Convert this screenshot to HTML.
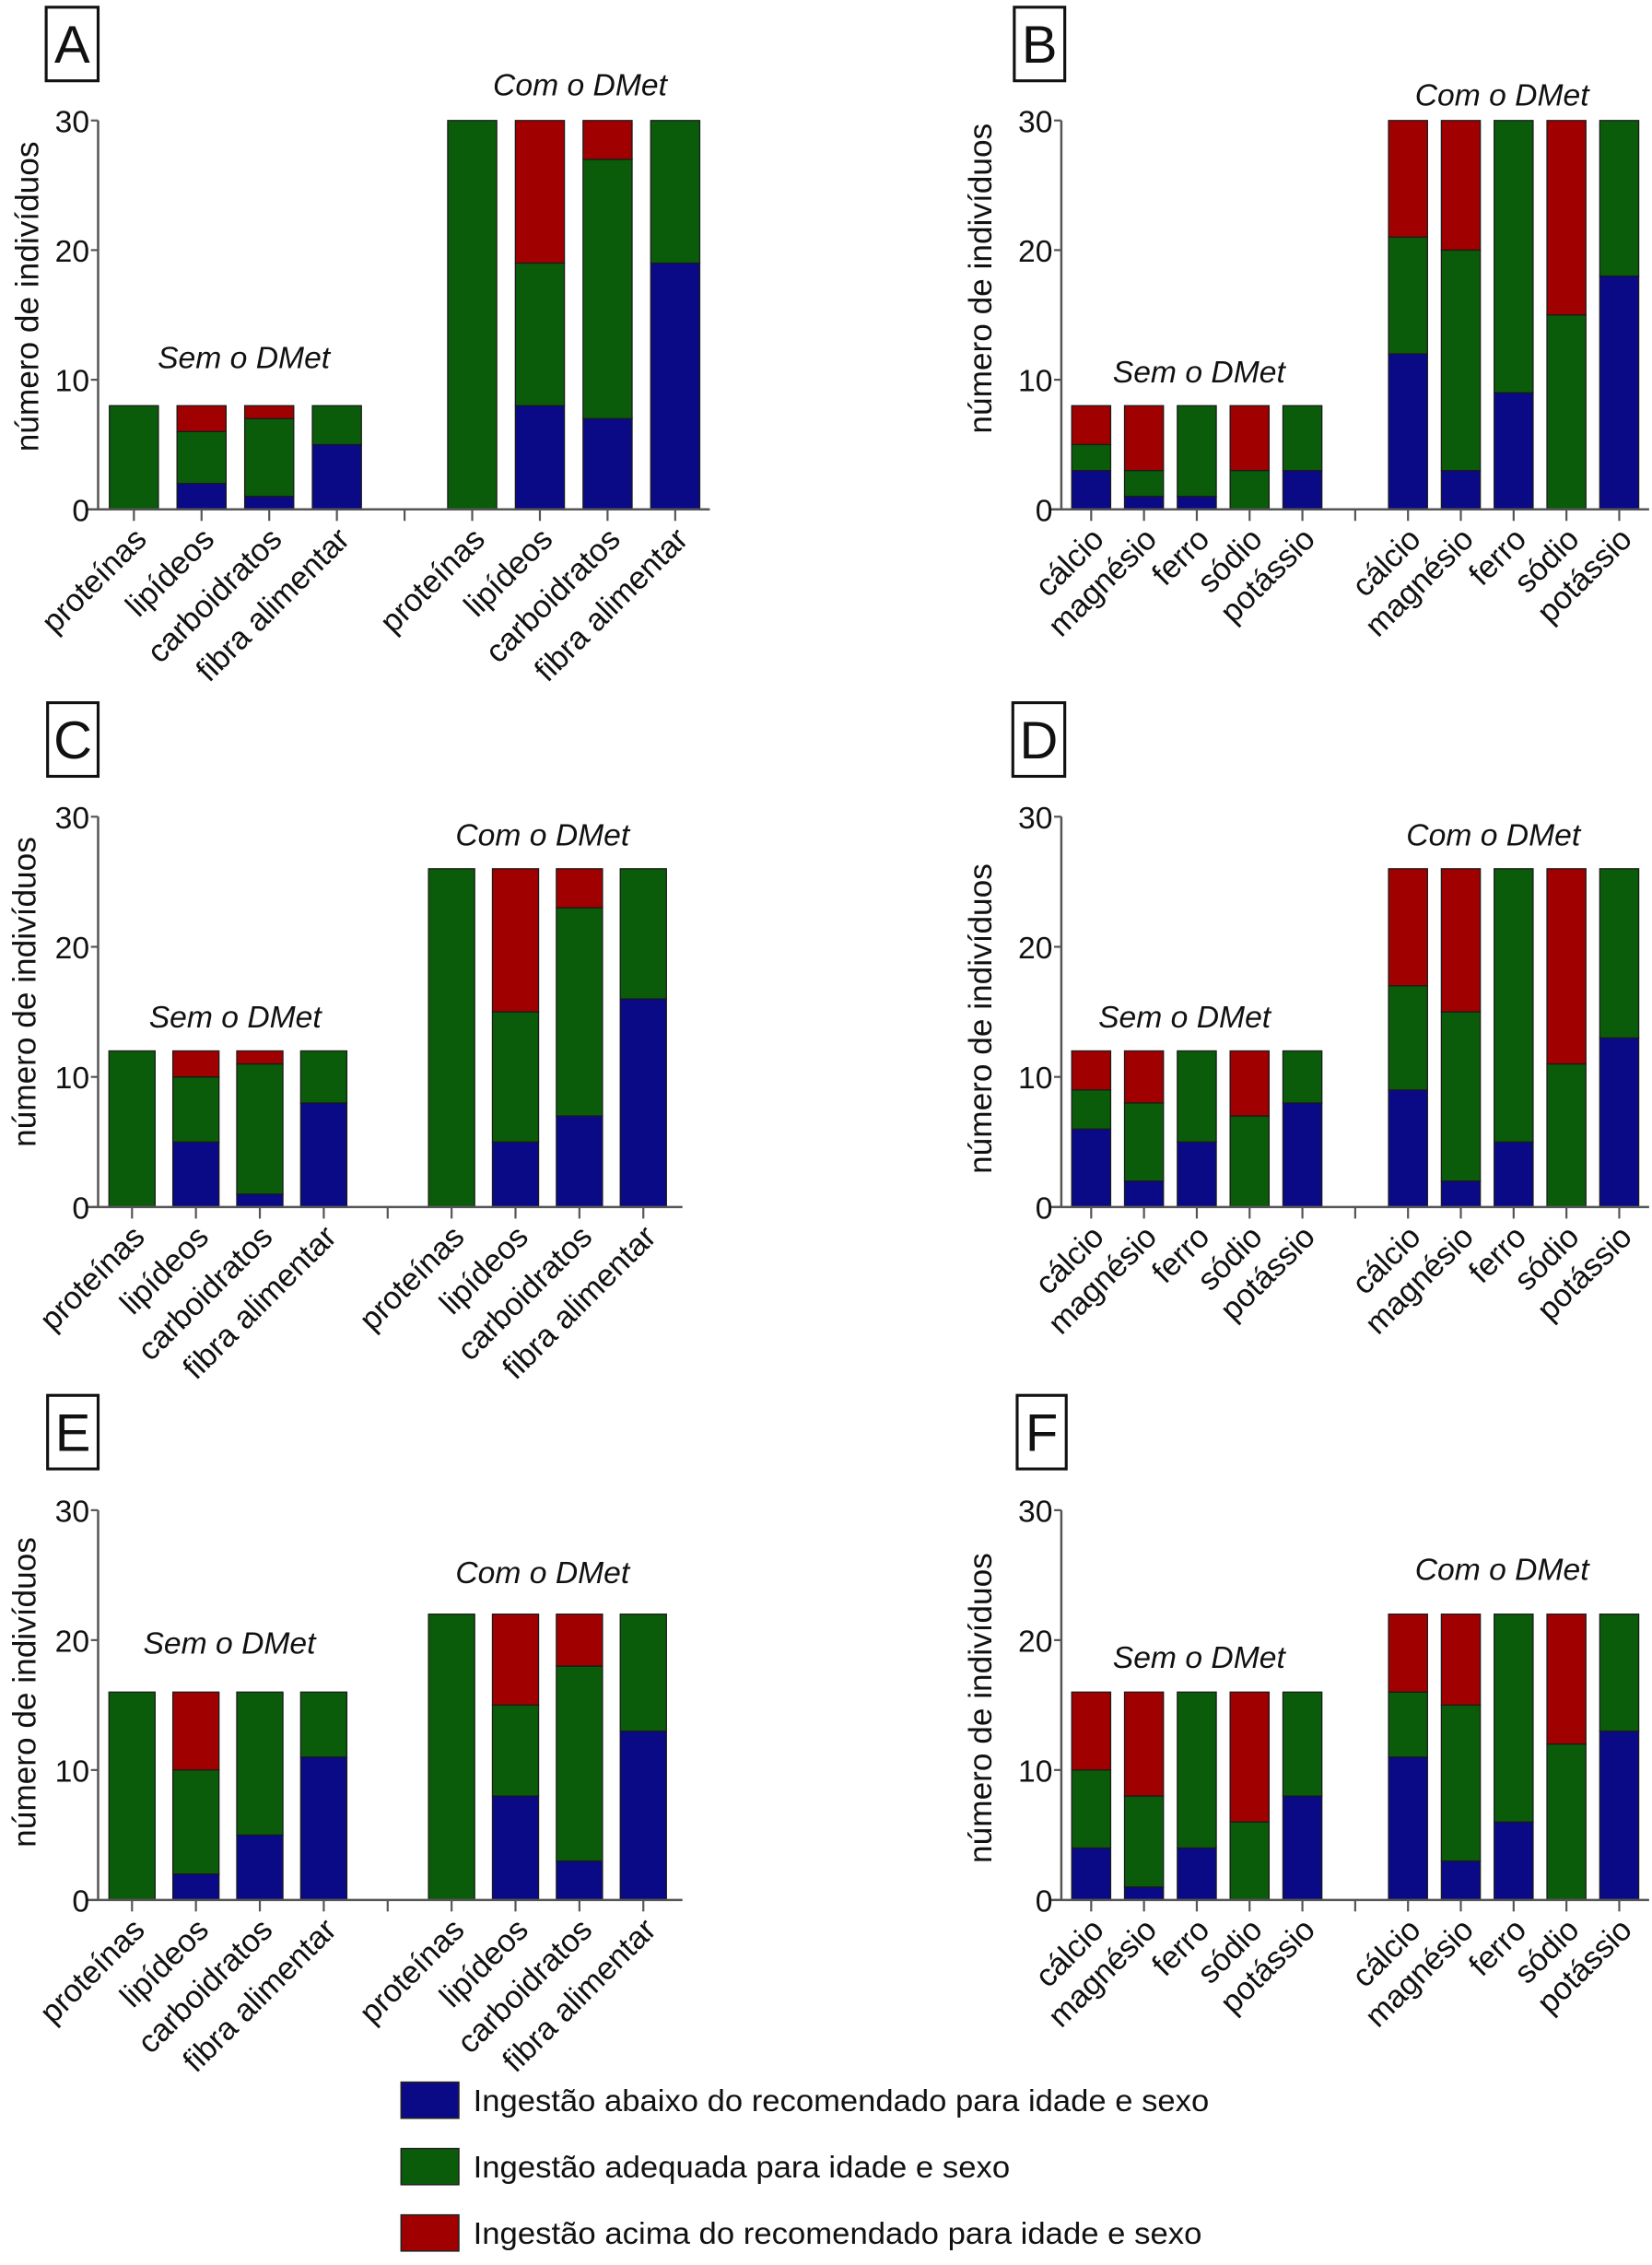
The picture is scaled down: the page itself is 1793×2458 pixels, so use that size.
<!DOCTYPE html>
<html><head><meta charset="utf-8"><style>
html,body{margin:0;padding:0;background:#fff;}
svg{display:block;}
text{font-family:"Liberation Sans",sans-serif;fill:#111;}
</style></head><body>
<svg id="fig" xmlns="http://www.w3.org/2000/svg" width="1793" height="2458" viewBox="0 0 1145 1569.7" preserveAspectRatio="none"></svg>
<script>
const macroCats = ["proteínas","lipídeos","carboidratos","fibra alimentar"];
const mineralCats = ["cálcio","magnésio","ferro","sódio","potássio"];
const yTickVals = [0,10,20,30];
const yTickLabels = ["0","10","20","30"];
const seriesNames = ["Ingestão abaixo do recomendado para idade e sexo","Ingestão adequada para idade e sexo","Ingestão acima do recomendado para idade e sexo"];

const aSemBlue=[0,2,1,5], aSemGreen=[8,4,6,3], aSemRed=[0,2,1,0];
const aComBlue=[0,8,7,19], aComGreen=[30,11,20,11], aComRed=[0,11,3,0];
const bSemBlue=[3,1,1,0,3], bSemGreen=[2,2,7,3,5], bSemRed=[3,5,0,5,0];
const bComBlue=[12,3,9,0,18], bComGreen=[9,17,21,15,12], bComRed=[9,10,0,15,0];
const cSemBlue=[0,5,1,8], cSemGreen=[12,5,10,4], cSemRed=[0,2,1,0];
const cComBlue=[0,5,7,16], cComGreen=[26,10,16,10], cComRed=[0,11,3,0];
const dSemBlue=[6,2,5,0,8], dSemGreen=[3,6,7,7,4], dSemRed=[3,4,0,5,0];
const dComBlue=[9,2,5,0,13], dComGreen=[8,13,21,11,13], dComRed=[9,11,0,15,0];
const eSemBlue=[0,2,5,11], eSemGreen=[16,8,11,5], eSemRed=[0,6,0,0];
const eComBlue=[0,8,3,13], eComGreen=[22,7,15,9], eComRed=[0,7,4,0];
const fSemBlue=[4,1,4,0,8], fSemGreen=[6,7,12,6,8], fSemRed=[6,8,0,10,0];
const fComBlue=[11,3,6,0,13], fComGreen=[5,12,16,12,9], fComRed=[6,7,0,10,0];

const COLORS=["#0a0a86","#0a5c0a","#a00000"];
const NS="http://www.w3.org/2000/svg";
const svg=document.getElementById('fig');
function mk(tag,attrs,parent,txt){const e=document.createElementNS(NS,tag);for(const k in attrs)e.setAttribute(k,attrs[k]);if(txt!==undefined)e.textContent=txt;(parent||svg).appendChild(e);return e;}

const panels=[
 {id:"a",letter:"A",cats:macroCats,sem:[aSemBlue,aSemGreen,aSemRed],com:[aComBlue,aComGreen,aComRed],ax:68,c0:92.8,sp:46.9,bw:34,end:492,y30:83.5,y0:353,box:[32,5,36,51],yt:[18.5,205.6],semT:[169,255],comT:[402,66]},
 {id:"b",letter:"B",cats:mineralCats,sem:[bSemBlue,bSemGreen,bSemRed],com:[bComBlue,bComGreen,bComRed],ax:735.6,c0:756.3,sp:36.6,bw:27,end:1143,y30:83.5,y0:353,box:[703,5,35,51],yt:[679,193],semT:[831,265],comT:[1041,73]},
 {id:"c",letter:"C",cats:macroCats,sem:[cSemBlue,cSemGreen,cSemRed],com:[cComBlue,cComGreen,cComRed],ax:68,c0:91.5,sp:44.3,bw:32,end:473,y30:566,y0:836.5,box:[33,487,35,51],yt:[16.6,687.5],semT:[163,712],comT:[376,586]},
 {id:"d",letter:"D",cats:mineralCats,sem:[dSemBlue,dSemGreen,dSemRed],com:[dComBlue,dComGreen,dComRed],ax:735.6,c0:756.3,sp:36.6,bw:27,end:1143,y30:566,y0:836.5,box:[702,487,36,51],yt:[679,706],semT:[821,712],comT:[1035,586]},
 {id:"e",letter:"E",cats:macroCats,sem:[eSemBlue,eSemGreen,eSemRed],com:[eComBlue,eComGreen,eComRed],ax:68,c0:91.5,sp:44.3,bw:32,end:473,y30:1046.6,y0:1316.7,box:[33,967,35,51],yt:[16.6,1172.8],semT:[159,1146],comT:[376,1097]},
 {id:"f",letter:"F",cats:mineralCats,sem:[fSemBlue,fSemGreen,fSemRed],com:[fComBlue,fComGreen,fComRed],ax:735.6,c0:756.3,sp:36.6,bw:27,end:1143,y30:1046.6,y0:1316.7,box:[705,967,34,51],yt:[679,1183.7],semT:[831,1156],comT:[1041,1095]}
];

panels.forEach(p=>{
  const g=mk('g',{});
  
  
  const yS=v=>p.y0-(p.y0-p.y30)*v/30;
  const n=p.cats.length;
  const xS=slot=>p.c0+slot*p.sp;
  const bx=mk('rect',{x:p.box[0],y:p.box[1],width:p.box[2],height:p.box[3],fill:'#fff',stroke:'#111','stroke-width':2},g);
  
  
  const bl=mk('text',{x:p.box[0]+p.box[2]/2,y:p.box[1]+p.box[3]/2+13,'text-anchor':'middle','font-size':37},g,p.letter);
  
  
  const groups=[{vals:p.sem,off:0,name:'sem'},{vals:p.com,off:n+1,name:'com'}];
  groups.forEach(gr=>{
    for(let i=0;i<n;i++){
      let acc=0;
      for(let s=0;s<3;s++){
        const v=gr.vals[s][i];
        if(v<=0) continue;
        const cx=xS(gr.off+i);
        const r=mk('rect',{x:cx-p.bw/2,y:yS(acc+v),width:p.bw,height:yS(acc)-yS(acc+v),fill:COLORS[s],stroke:'#1a1a1a','stroke-width':0.8},g);
        
        
        acc+=v;
      }
    }
  });
  const ya=mk('line',{x1:p.ax,y1:p.y30,x2:p.ax,y2:p.y0,stroke:'#555','stroke-width':1.6},g);
  
  
  const xa=mk('line',{x1:p.ax-8,y1:p.y0,x2:p.end,y2:p.y0,stroke:'#555','stroke-width':1.6},g);
  
  
  yTickVals.forEach((v,k)=>{
    mk('line',{x1:p.ax-5,y1:yS(v),x2:p.ax,y2:yS(v),stroke:'#555','stroke-width':1.4},g);
    const t=mk('text',{x:p.ax-6,y:yS(v)+8,'text-anchor':'end','font-size':21.5},g,yTickLabels[k]);
    
    
  });
  for(let s=0;s<2*n+1;s++){
    mk('line',{x1:xS(s),y1:p.y0,x2:xS(s),y2:p.y0+8,stroke:'#555','stroke-width':1.4},g);
  }
  groups.forEach(gr=>{
    for(let i=0;i<n;i++){
      const ax=xS(gr.off+i)+10, ay=p.y0+22;
      const t=mk('text',{x:ax,y:ay,'text-anchor':'end','font-size':22,transform:`rotate(-45 ${ax} ${ay})`},g,p.cats[i]);
      
      
    }
  });
  const yt=mk('text',{x:p.yt[0],y:p.yt[1],'text-anchor':'middle','font-size':22.5,transform:`rotate(-90 ${p.yt[0]} ${p.yt[1]})`,dy:8},g,'número de indivíduos');
  
  
  const st=mk('text',{x:p.semT[0],y:p.semT[1],'text-anchor':'middle','font-size':21.5,'font-style':'italic'},g,'Sem o DMet');
  
  
  const ct=mk('text',{x:p.comT[0],y:p.comT[1],'text-anchor':'middle','font-size':21.5,'font-style':'italic'},g,'Com o DMet');
  
  
});

const lg=mk('g',{});


const legY=[1443,1489,1535];
const legLen=[510,372,505];
seriesNames.forEach((nm,k)=>{
  const sw=mk('rect',{x:278,y:legY[k],width:40,height:25,fill:COLORS[k],stroke:'#222','stroke-width':1},lg);
  
  
  const t=mk('text',{x:328,y:legY[k]+20,'font-size':21.5,textLength:legLen[k],lengthAdjust:'spacingAndGlyphs'},lg,nm);
  
  
});
</script>
</body></html>
